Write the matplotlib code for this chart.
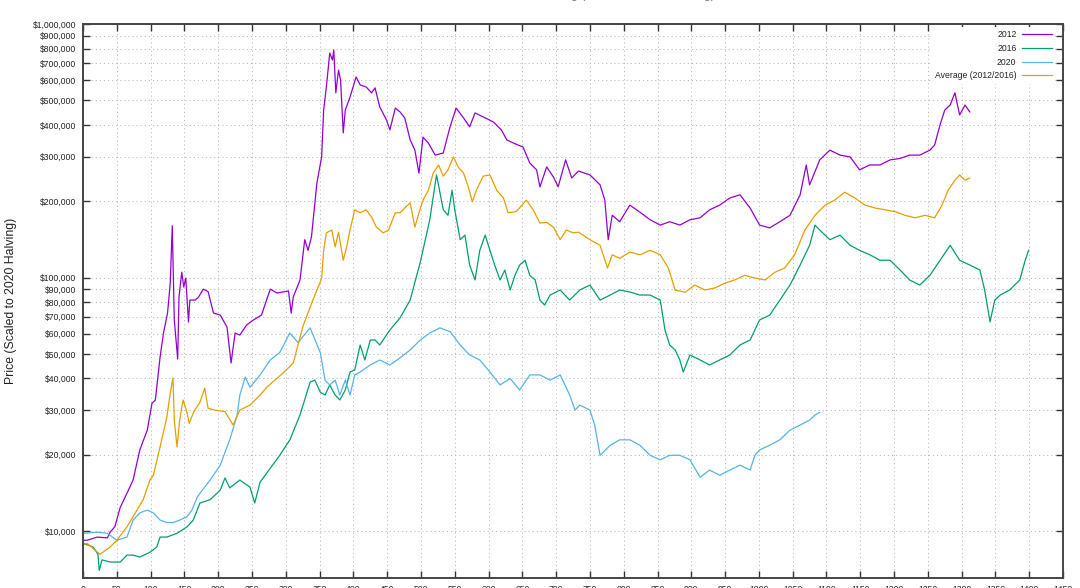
import matplotlib
matplotlib.use("Agg")
import matplotlib.pyplot as plt
from matplotlib.ticker import FixedLocator, FuncFormatter, NullLocator

# days since halving / price scaled to 2020 halving (USD)
days_2012 = [0, 6, 21, 36, 40, 47, 55, 65, 74, 84, 95, 102, 107, 114, 119, 125, 129, 132,
             135, 140, 142, 146, 149, 152, 156, 158, 166, 171, 178, 185, 193, 203, 213, 219,
             225, 232, 242, 252, 264, 277, 287, 304, 308, 311, 321, 328, 333, 338, 346, 353,
             356, 360, 365, 369, 371, 374, 378, 381, 385, 388, 395, 404, 410, 419, 427, 432,
             439, 449, 454, 462, 469, 476, 484, 491, 497, 503, 511, 521, 533, 543, 552, 563,
             572, 580, 592, 607, 619, 627, 637, 651, 661, 671, 676, 686, 696, 703, 714, 723,
             733, 750, 765, 772, 777, 783, 794, 809, 824, 839, 854, 868, 883, 898, 913, 927,
             942, 957, 972, 987, 1001, 1016, 1031, 1046, 1061, 1070, 1075, 1090, 1105, 1120,
             1135, 1149, 1164, 1179, 1194, 1209, 1223, 1238, 1253, 1260, 1268, 1275, 1283,
             1290, 1297, 1305, 1312]
price_2012 = [9200, 9200, 9470, 9400, 9900, 10400, 12400, 14100, 15900, 20900, 25000, 31900,
              32900, 48600, 60400, 72400, 95000, 160000, 68000, 47700, 83800, 105000, 91800,
              99600, 66800, 81500, 81500, 83800, 90000, 88000, 72400, 71100, 63800, 46000,
              60400, 59300, 65000, 68000, 71100, 90000, 86900, 88500, 72400, 83800, 97800,
              141000, 128000, 145000, 236000, 299000, 458000, 564000, 768000, 721000, 789000,
              535000, 658000, 601000, 372000, 458000, 515000, 618000, 575000, 564000, 535000,
              560000, 471000, 418000, 382000, 466000, 450000, 426000, 349000, 318000, 258000,
              358000, 339000, 304000, 310000, 393000, 466000, 426000, 393000, 446000, 430000,
              411000, 382000, 349000, 339000, 327000, 283000, 266000, 228000, 273000, 249000,
              228000, 291000, 247000, 263000, 254000, 232000, 202000, 141000, 176000, 166000,
              193000, 181000, 169000, 161000, 166000, 161000, 169000, 172000, 185000, 193000,
              206000, 212000, 188000, 161000, 157000, 166000, 176000, 212000, 278000, 232000,
              291000, 318000, 304000, 299000, 266000, 278000, 278000, 291000, 295000, 304000,
              304000, 318000, 333000, 400000, 458000, 479000, 535000, 438000, 479000, 450000]

days_2016 = [0, 15, 22, 24, 28, 40, 55, 65, 74, 84, 99, 109, 114, 124, 139, 154, 163, 173,
             188, 203, 210, 217, 232, 247, 254, 262, 277, 291, 306, 321, 336, 343, 351, 358,
             365, 373, 380, 388, 395, 402, 410, 417, 425, 432, 439, 454, 469, 484, 499, 513,
             523, 533, 540, 546, 550, 558, 565, 572, 580, 587, 595, 602, 609, 617, 624, 632,
             639, 646, 654, 661, 669, 676, 683, 691, 706, 720, 735, 750, 765, 780, 794, 809,
             824, 839, 854, 861, 868, 876, 883, 888, 898, 913, 927, 942, 957, 972, 987, 1001,
             1016, 1031, 1046, 1061, 1075, 1083, 1090, 1105, 1120, 1135, 1149, 1164, 1179,
             1194, 1209, 1223, 1238, 1253, 1268, 1283, 1297, 1312, 1327, 1334, 1342, 1349,
             1357, 1371, 1386, 1394, 1399]
price_2016 = [8950, 8650, 8100, 7000, 7700, 7550, 7550, 8040, 8040, 7900, 8250, 8650, 9470,
              9470, 9800, 10400, 11050, 12900, 13300, 14500, 16200, 14800, 15900, 14900,
              12900, 15600, 17700, 19900, 22900, 28700, 38700, 39400, 35300, 34400, 37700,
              34400, 32900, 36000, 42400, 43200, 54200, 47300, 56700, 56700, 54200, 62100,
              69300, 81500, 115000, 169000, 254000, 185000, 176000, 221000, 185000, 141000,
              147000, 112000, 97800, 128000, 147000, 128000, 112000, 97800, 107000, 89300,
              102000, 112000, 117000, 102000, 97800, 81500, 77900, 85300, 89300, 81500, 89300,
              93400, 81500, 85300, 89300, 87700, 85300, 85300, 81500, 62100, 54200, 51800,
              47300, 42400, 49500, 47300, 45200, 47300, 49500, 54200, 56700, 68000, 71100,
              81500, 93400, 112000, 134000, 161000, 154000, 141000, 147000, 134000, 128000,
              123000, 117000, 117000, 107000, 97800, 93400, 102000, 117000, 134000, 117000,
              112000, 107000, 89300, 66800, 81500, 85300, 89300, 97800, 117000, 128000]

days_2020 = [0, 3, 21, 36, 50, 65, 74, 84, 95, 104, 114, 124, 133, 143, 154, 161, 169, 173,
             188, 203, 217, 228, 232, 240, 247, 262, 277, 291, 306, 318, 336, 351, 358, 365,
             373, 380, 388, 395, 402, 410, 425, 439, 454, 469, 484, 499, 513, 528, 543, 558,
             572, 587, 602, 617, 632, 646, 661, 676, 691, 706, 720, 728, 735, 750, 757, 765,
             780, 794, 809, 824, 839, 854, 868, 883, 898, 913, 927, 942, 957, 972, 987, 994,
             1001, 1016, 1031, 1046, 1061, 1075, 1083, 1090]
price_2020 = [9800, 9800, 9900, 9800, 9200, 9470, 11050, 11800, 12100, 11800, 11050, 10800,
              10800, 11050, 11400, 12100, 13600, 14100, 15900, 18200, 22900, 28700, 34400,
              40500, 36900, 41300, 47300, 50600, 60400, 55400, 63300, 50600, 39400, 37700,
              39400, 34400, 39400, 34400, 41300, 42400, 45200, 47300, 45200, 48200, 51800,
              56700, 60400, 63300, 61200, 54200, 49500, 47300, 42400, 37700, 40000, 36000,
              41300, 41300, 39400, 41300, 34400, 30000, 31400, 30000, 26200, 19900, 21800,
              22900, 22900, 21800, 19900, 19100, 19900, 19900, 19100, 16300, 17400, 16600,
              17400, 18200, 17400, 19900, 20900, 21800, 22900, 25000, 26200, 27400, 28700,
              29400]

days_avg = [0, 6, 25, 40, 50, 65, 74, 89, 99, 104, 114, 124, 129, 133, 135, 139, 143, 148,
            154, 157, 164, 173, 180, 185, 195, 210, 222, 232, 247, 262, 272, 284, 296, 311,
            325, 340, 351, 353, 356, 360, 368, 373, 378, 385, 390, 395, 402, 410, 419, 427,
            434, 444, 452, 462, 469, 476, 484, 491, 497, 503, 511, 518, 526, 533, 540, 548,
            555, 563, 570, 576, 582, 592, 602, 612, 622, 629, 641, 656, 666, 676, 686, 696,
            706, 715, 725, 733, 750, 765, 776, 783, 794, 809, 824, 839, 854, 866, 876, 891,
            905, 920, 935, 950, 964, 979, 994, 1009, 1024, 1038, 1053, 1068, 1083, 1098,
            1112, 1127, 1142, 1157, 1172, 1186, 1201, 1216, 1231, 1246, 1260, 1271, 1280,
            1290, 1297, 1305, 1312]
price_avg = [8800, 8950, 8100, 8650, 9200, 10400, 11400, 13300, 15900, 16600, 21500, 28200,
             35000, 40200, 27400, 21500, 27400, 32900, 29200, 26600, 29600, 32200, 36600,
             30500, 30000, 29600, 26200, 30000, 31400, 34400, 37000, 39400, 42000, 46000,
             63800, 81500, 96000, 99600, 128000, 150000, 154000, 132000, 151000, 117000,
             132000, 154000, 185000, 180000, 185000, 173000, 158000, 150000, 154000, 180000,
             180000, 188000, 197000, 158000, 180000, 202000, 221000, 258000, 278000, 251000,
             266000, 299000, 273000, 258000, 228000, 199000, 221000, 251000, 254000, 221000,
             206000, 180000, 182000, 202000, 185000, 164000, 165000, 158000, 141000, 154000,
             150000, 151000, 141000, 134000, 109000, 123000, 119000, 126000, 123000, 128000,
             123000, 109000, 89300, 87500, 93400, 89300, 91000, 95100, 97800, 102000, 99600,
             97800, 105000, 109000, 123000, 154000, 176000, 193000, 202000, 217000, 206000,
             193000, 188000, 185000, 182000, 176000, 172000, 176000, 172000, 193000, 221000,
             242000, 254000, 242000, 247000]

x_ticks = list(range(0, 1451, 50))
y_ticks = [10000, 20000, 30000, 40000, 50000, 60000, 70000, 80000, 90000,
           100000, 200000, 300000, 400000, 500000, 600000, 700000, 800000, 900000, 1000000]

COLORS = {"2012": "#9400d3", "2016": "#009e73", "2020": "#56b4e9", "avg": "#e69f00"}

plt.rcParams["font.family"] = ["Liberation Sans", "DejaVu Sans"]

fig = plt.figure(figsize=(10.8, 5.88), dpi=100)
ax = fig.add_axes([0.0769, 0.017, 0.9074, 0.9422])

ax.plot(days_2012, price_2012, color=COLORS["2012"], lw=0.9, label="2012")
ax.plot(days_2016, price_2016, color=COLORS["2016"], lw=0.9, label="2016")
ax.plot(days_2020, price_2020, color=COLORS["2020"], lw=0.9, label="2020")
ax.plot(days_avg, price_avg, color=COLORS["avg"], lw=0.9, label="Average (2012/2016)")

ax.set_yscale("log")
ax.set_xlim(0, 1450)
ax.set_ylim(6530, 1000000)
ax.xaxis.set_major_locator(FixedLocator(x_ticks))
ax.yaxis.set_major_locator(FixedLocator(y_ticks))
ax.yaxis.set_minor_locator(NullLocator())
ax.yaxis.set_major_formatter(FuncFormatter(lambda v, p: f"${v:,.0f}"))
ax.tick_params(which="both", direction="in", top=True, right=True, length=5,
               width=1, color="#333333", labelsize=6.2, labelcolor="#222222", pad=5)
ax.grid(True, which="major", linestyle=(0, (1.2, 3)), color="#bbbbbb", lw=0.7)
for sp in ax.spines.values():
    sp.set_color("#444444")
    sp.set_linewidth(1.4)

ax.set_ylabel("Price (Scaled to 2020 Halving)", fontsize=8.8, color="#222222")
ax.yaxis.set_label_coords(-0.067, 0.5)

leg = ax.legend(loc="upper right", bbox_to_anchor=(0.992, 0.995), borderaxespad=0,
                markerfirst=False, fontsize=6.2, handlelength=3.4, labelspacing=0.55,
                frameon=True, borderpad=0.4, handletextpad=0.7)
leg.get_frame().set_facecolor("white")
leg.get_frame().set_edgecolor("none")
leg.get_frame().set_alpha(1.0)
for t in leg.get_texts():
    t.set_ha("right")
    t.set_color("#222222")

fig.text(0.534, 1.009, "Bitcoin Price After Halving (Scaled to 2020 Halving)",
         ha="center", va="center", fontsize=8.7, color="#777777")

fig.savefig("out.png", dpi=100)
